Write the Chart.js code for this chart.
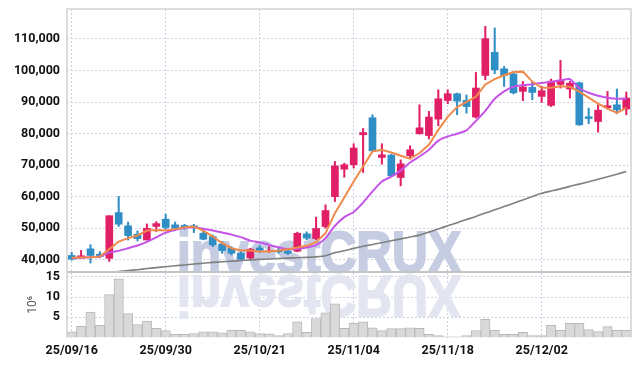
<!DOCTYPE html>
<html>
<head>
<meta charset="utf-8">
<script src="https://cdn.jsdelivr.net/npm/chart.js@4.4.1/dist/chart.umd.min.js"></script>
<style>
  html, body { margin: 0; padding: 0; background: #fff; }
  #wrap { width: 639px; height: 366px; position: relative; }
</style>
</head>
<body>
<div id="wrap"><canvas id="chart"></canvas></div>
<script>
// Handelstage (YY/MM/DD)
const dates = [
  '25/09/16','25/09/17','25/09/18','25/09/19','25/09/22','25/09/23','25/09/24','25/09/25','25/09/26','25/09/29',
  '25/09/30','25/10/01','25/10/02','25/10/10','25/10/13','25/10/14','25/10/15','25/10/16','25/10/17','25/10/20',
  '25/10/21','25/10/22','25/10/23','25/10/24','25/10/27','25/10/28','25/10/29','25/10/30','25/10/31','25/11/03',
  '25/11/04','25/11/05','25/11/06','25/11/07','25/11/10','25/11/11','25/11/12','25/11/13','25/11/14','25/11/17',
  '25/11/18','25/11/19','25/11/20','25/11/21','25/11/24','25/11/25','25/11/26','25/11/27','25/11/28','25/12/01',
  '25/12/02','25/12/03','25/12/04','25/12/05','25/12/08','25/12/09','25/12/10','25/12/11','25/12/12','25/12/15'
];

const opens = [
  41400, 40600, 43500, 41800, 40500, 55000, 50800, 48150, 46300, 50600,
  52900, 51100, 50900, 50800, 48450, 47400, 45050, 43700, 42100, 40600,
  43800, 42700, 42950, 42850, 42750, 48250, 46750, 50550, 60050, 68750,
  70150, 79650, 85050, 72450, 73200, 66100, 73000, 79950, 79400, 84600,
  90500, 92650, 90550, 85250, 98450, 105750, 100550, 98900, 93400, 94650,
  91800, 88950, 95600, 94150, 96100, 85350, 83850, 88200, 89150, 87800
];
const closes = [
  40200, 41300, 41400, 41100, 54000, 51300, 47700, 46750, 50000, 51500,
  50250, 50050, 50400, 50250, 46550, 44750, 42950, 42100, 40200, 43400,
  42950, 42850, 42550, 42100, 48450, 46900, 49950, 55650, 69800, 70150,
  75450, 80350, 74550, 73300, 66650, 70450, 74900, 81850, 85250, 91050,
  92650, 90300, 88600, 94450, 110100, 100250, 98450, 92950, 94800, 93050,
  93600, 96650, 96750, 96000, 82800, 84800, 87450, 88850, 87550, 91300
];
const highs = [
  42400, 43000, 44800, 42600, 54000, 60100, 52000, 49200, 51400, 52100,
  54500, 52000, 51300, 51300, 49500, 47900, 45800, 44200, 42600, 43700,
  44550, 44200, 43700, 43700, 48800, 48900, 53550, 57450, 71200, 70650,
  76800, 81650, 86000, 76800, 73500, 71700, 76150, 89150, 87050, 93900,
  93900, 92850, 92250, 99400, 114000, 113500, 101300, 99700, 96550, 96550,
  95000, 97300, 103200, 96550, 96350, 88100, 89150, 93400, 94150, 93200
];
const lows = [
  39900, 40400, 39000, 40700, 39500, 50600, 46300, 46000, 46300, 49000,
  49700, 49300, 49700, 48650, 46350, 44200, 42100, 41600, 39800, 40000,
  42300, 42400, 42100, 41700, 42550, 46350, 46350, 50050, 58500, 66200,
  69100, 67700, 74350, 70350, 66400, 63450, 72250, 79850, 78300, 82500,
  89500, 86000, 86500, 84950, 97100, 99000, 94950, 92550, 90450, 90750,
  89900, 88600, 94450, 91300, 82600, 83150, 80500, 87800, 86300, 86000
];

// Volumen in Mio. Stück
const volumes = [
  1.4, 2.8, 6.3, 3.0, 10.6, 14.5, 5.9, 3.2, 4.1, 2.3,
  1.7, 0.8, 0.8, 1.0, 1.4, 1.4, 1.2, 1.8, 1.8, 1.4,
  1.0, 0.9, 0.5, 1.0, 3.9, 1.3, 4.7, 6.1, 8.3, 2.3,
  3.5, 3.9, 2.4, 1.7, 2.2, 2.2, 2.4, 2.3, 0.8, 0.5,
  0.2, 0.2, 0.5, 1.7, 4.5, 1.8, 0.8, 0.8, 1.3, 0.5,
  0.5, 3.0, 1.8, 3.5, 3.5, 2.0, 1.5, 2.7, 1.8, 1.8
];

// Gleitende Durchschnitte
const maShort = [
  40650, 40750, 40850, 41050, 43400, 45800, 46900, 47700, 49300, 49500,
  49300, 49750, 50350, 50550, 49300, 47400, 45300, 43700, 42950, 42950,
  42650, 42650, 42950, 43400, 43900, 44450, 45600, 48450, 54800, 59800,
  64850, 69600, 74350, 74900, 74050, 73000, 72050, 73850, 76450, 81200,
  85300, 88400, 90100, 91700, 95600, 97300, 98500, 99500, 99650, 96500,
  94550, 94550, 95000, 94850, 93300, 91400, 89500, 87900, 86550, 88150
];
const maMid = [
  40550, 40650, 40850, 41050, 42300, 42850, 43700, 44550, 45700, 47150,
  48650, 49500, 50150, 50350, 49850, 49300, 48650, 48000, 47200, 46100,
  45500, 44750, 44000, 43400, 43500, 43900, 44650, 46900, 50800, 53550,
  55200, 58150, 61700, 64850, 66400, 68300, 70850, 72750, 74900, 77800,
  79150, 79950, 81050, 84050, 87250, 91050, 93400, 94850, 95350, 95650,
  96050, 96450, 96900, 97250, 94400, 92950, 92000, 91400, 91050, 91050
];
const maLong = [
  34900, 35100, 35400, 35800, 36050, 36300, 36600, 36900, 37250, 37550,
  37850, 38150, 38400, 38700, 38950, 39200, 39400, 39600, 39800, 40000,
  40150, 40300, 40450, 40550, 40700, 40800, 40950, 41300, 42300, 42900,
  43650, 44300, 44900, 45450, 46050, 46650, 47250, 47850, 48800, 49800,
  50800, 51800, 52800, 53750, 54850, 55850, 56900, 57950, 59000, 60050,
  61100, 61800, 62500, 63300, 64000, 64750, 65550, 66350, 67150, 68000
];

const priceTicks = [40000, 50000, 60000, 70000, 80000, 90000, 100000, 110000];
const volumeTicks = [5, 10, 15];

const upColor = '#e01f66';
const downColor = '#2f8ec5';
const gridColor = '#ccd0e0';
const tickFont = { family: 'Roboto, "Liberation Sans", sans-serif', size: 12.5, weight: 'bold' };

const candleColors = opens.map((o, i) => closes[i] >= o ? upColor : downColor);
const wickData = lows.map((l, i) => [l, highs[i]]);
const bodyData = opens.map((o, i) => [o, closes[i]]);

// Feste Breite, kein zusätzlicher Platz für Beschriftungen oben/unten
function fitYAxis(ax) {
  ax.width = 67;
  ax.paddingTop = 0;
  ax.paddingBottom = 0;
}

// Kursdatensätze auf den Kursbereich beschränken
const clipPricePlugin = {
  id: 'clipPrice',
  beforeDatasetDraw(chart, args) {
    if (args.meta.yAxisID !== 'y') return;
    const ys = chart.scales.y, area = chart.chartArea;
    chart.ctx.save();
    chart.ctx.beginPath();
    chart.ctx.rect(area.left, ys.top, area.right - area.left, ys.bottom - ys.top);
    chart.ctx.clip();
  },
  afterDatasetDraw(chart, args) {
    if (args.meta.yAxisID !== 'y') return;
    chart.ctx.restore();
  }
};

// Wasserzeichen mit Spiegelung
const watermarkPlugin = {
  id: 'watermark',
  beforeDatasetsDraw(chart) {
    const ctx = chart.ctx, area = chart.chartArea, ys = chart.scales.y;
    const text = 'investCRUX';
    ctx.save();
    ctx.font = 'bold 58px "Liberation Sans", Arial, sans-serif';
    const sx = 284 / ctx.measureText(text).width;
    ctx.translate(area.left + 110, ys.bottom);
    ctx.scale(sx, 1);
    ctx.textBaseline = 'alphabetic';
    ctx.fillStyle = '#c6cde3';
    ctx.strokeStyle = '#c6cde3';
    ctx.lineWidth = 2;
    ctx.fillText(text, 0, 0);
    ctx.strokeText(text, 0, 0);
    ctx.scale(1, -1);
    ctx.fillStyle = '#e3e6f0';
    ctx.strokeStyle = '#e3e6f0';
    ctx.fillText(text, 0, -4);
    ctx.strokeText(text, 0, -4);
    ctx.restore();
  }
};

// Rahmen und Trennlinie zwischen Kurs- und Volumenbereich
const framePlugin = {
  id: 'frame',
  afterDatasetsDraw(chart) {
    const ctx = chart.ctx, area = chart.chartArea, ys = chart.scales.y;
    ctx.save();
    ctx.strokeStyle = '#d2d2d2';
    ctx.lineWidth = 1.5;
    ctx.beginPath();
    ctx.moveTo(area.left, area.bottom);
    ctx.lineTo(area.left, area.top);
    ctx.lineTo(area.right, area.top);
    ctx.lineTo(area.right, area.bottom);
    ctx.stroke();
    ctx.strokeStyle = '#c4c4c4';
    ctx.lineWidth = 2;
    ctx.beginPath();
    ctx.moveTo(area.left, ys.bottom);
    ctx.lineTo(area.right, ys.bottom);
    ctx.stroke();
    ctx.restore();
  }
};

new Chart(document.getElementById('chart'), {
  data: {
    labels: dates,
    datasets: [
      { type: 'line', data: maShort, yAxisID: 'y', borderColor: '#f08a4b', borderWidth: 2, pointRadius: 0, tension: 0, order: 0 },
      { type: 'line', data: maMid, yAxisID: 'y', borderColor: '#c553e8', borderWidth: 2, pointRadius: 0, tension: 0.2, order: 0 },
      { type: 'line', data: maLong, yAxisID: 'y', borderColor: '#808080', borderWidth: 1.6, pointRadius: 0, tension: 0.2, order: 0 },
      { type: 'bar', data: bodyData, yAxisID: 'y', backgroundColor: candleColors, barThickness: 7, grouped: false, order: 1 },
      { type: 'bar', data: wickData, yAxisID: 'y', backgroundColor: candleColors, barThickness: 1.4, grouped: false, order: 2 },
      { type: 'bar', data: volumes, yAxisID: 'yv', backgroundColor: '#d9d9d9', borderColor: '#b9b9b9', borderWidth: 1,
        barPercentage: 1, categoryPercentage: 1, grouped: false, order: 3 }
    ]
  },
  options: {
    responsive: true,
    maintainAspectRatio: false,
    animation: false,
    events: [],
    layout: { padding: { top: 9, right: 8, left: 0, bottom: 0 } },
    plugins: { legend: { display: false }, tooltip: { enabled: false } },
    scales: {
      x: {
        type: 'category',
        offset: true,
        grid: { color: gridColor, drawTicks: false, offset: false },
        border: { display: false, dash: [2, 2] },
        ticks: { autoSkip: false, maxRotation: 0, padding: 5.5, color: '#111', font: tickFont },
        afterBuildTicks: ax => { ax.ticks = ax.ticks.filter(t => t.value % 10 === 0); },
        afterFit: ax => { ax.height = 28.4; }
      },
      yv: {
        type: 'linear',
        position: 'left',
        stack: 'main',
        stackWeight: 1,
        min: 0,
        max: 16.2,
        grid: { color: gridColor, drawTicks: false },
        border: { display: false, dash: [2, 2] },
        title: { display: true, text: '10⁶', color: '#555', font: { family: 'Roboto, sans-serif', size: 12 }, padding: { top: 26, bottom: 0 } },
        ticks: { autoSkip: false, padding: 7, color: '#111', font: tickFont, callback: v => String(v) },
        afterBuildTicks: ax => { ax.ticks = volumeTicks.map(v => ({ value: v })); },
        afterFit: fitYAxis
      },
      y: {
        type: 'linear',
        position: 'left',
        stack: 'main',
        stackWeight: 4,
        min: 36200,
        max: 119500,
        grid: { color: gridColor, drawTicks: false },
        border: { display: false, dash: [2, 2] },
        ticks: { autoSkip: false, padding: 7, color: '#111', font: tickFont, callback: v => v.toLocaleString('en-US') },
        afterBuildTicks: ax => { ax.ticks = priceTicks.map(v => ({ value: v })); },
        afterFit: fitYAxis
      }
    }
  },
  plugins: [clipPricePlugin, watermarkPlugin, framePlugin]
});
</script>
</body>
</html>
